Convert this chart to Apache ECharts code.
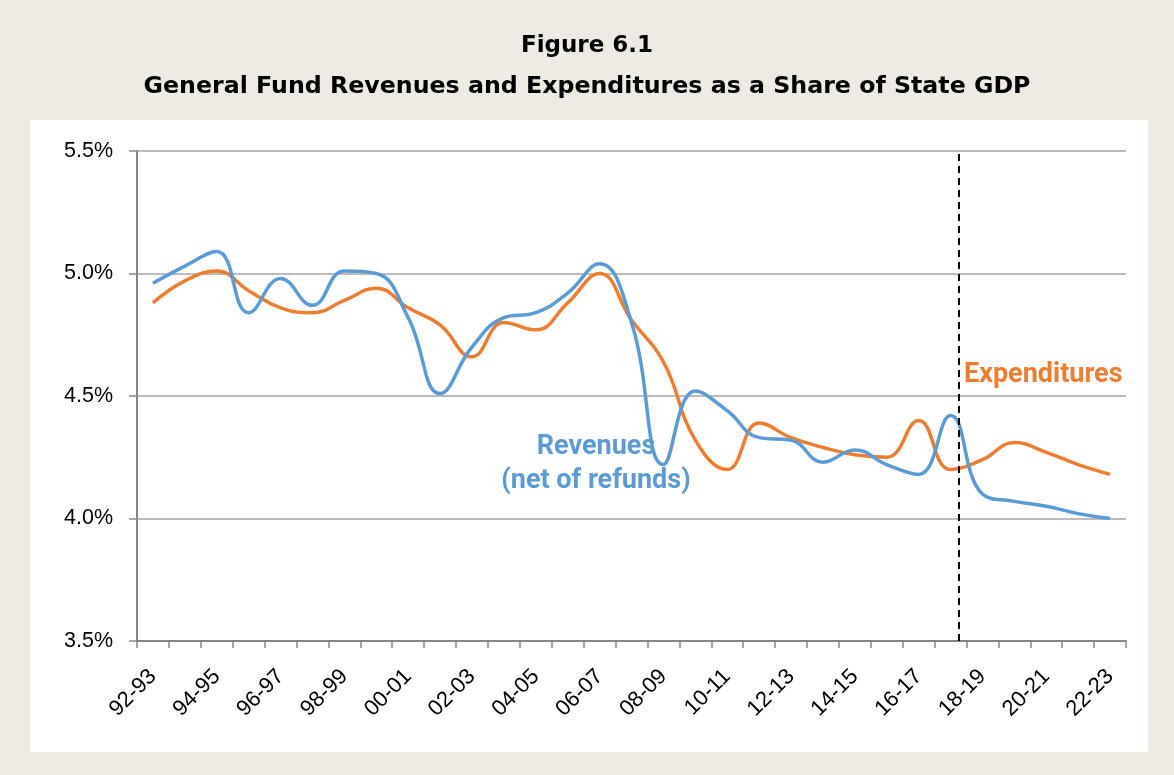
<!DOCTYPE html>
<html>
<head>
<meta charset="utf-8">
<script src="https://cdn.jsdelivr.net/npm/echarts@6/dist/echarts.min.js"></script>
<style>
  html, body { margin: 0; padding: 0; background: #fff; }
  #chart { width: 1174px; height: 775px; }
</style>
</head>
<body>
<div id="chart"></div>
<script>
var years = ['92-93','93-94','94-95','95-96','96-97','97-98','98-99','99-00','00-01','01-02',
  '02-03','03-04','04-05','05-06','06-07','07-08','08-09','09-10','10-11','11-12',
  '12-13','13-14','14-15','15-16','16-17','17-18','18-19','19-20','20-21','21-22','22-23']

var revenues = [4.96, 5.03, 5.09, 4.84, 4.98, 4.87, 5.01, 5.00, 4.82, 4.51,
  4.70, 4.82, 4.84, 4.92, 5.04, 4.80, 4.22, 4.52, 4.44, 4.33,
  4.32, 4.23, 4.28, 4.22, 4.18, 4.42, 4.10, 4.07, 4.05, 4.02, 4.00]

var expenditures = [4.88, 4.97, 5.01, 4.93, 4.86, 4.84, 4.89, 4.94, 4.86, 4.79,
  4.66, 4.80, 4.77, 4.88, 5.00, 4.81, 4.64, 4.32, 4.20, 4.39,
  4.33, 4.29, 4.26, 4.25, 4.40, 4.20, 4.24, 4.31, 4.27, 4.22, 4.18]

// where the dashed divider sits, in category-width units from the left edge
var forecastBoundary = 25.75

var yTicks = { min: 3.5, max: 5.5, step: 0.5 }

var BLUE = '#5b9bd5'
var ORANGE = '#ed7d31'

var chart = echarts.init(document.getElementById('chart'))

chart.setOption({
  backgroundColor: '#eeebe4',
  animation: false,
  title: [
    {
      text: 'Figure 6.1',
      left: 'center',
      top: 30,
      textStyle: { fontFamily: 'DejaVu Sans', fontWeight: 'bold', fontSize: 23, color: '#000' }
    },
    {
      text: 'General Fund Revenues and Expenditures as a Share of State GDP',
      left: 'center',
      top: 70,
      textStyle: { fontFamily: 'DejaVu Sans', fontWeight: 'bold', fontSize: 23.7, color: '#000' }
    }
  ],
  graphic: [
    {
      type: 'rect', z: -10, silent: true,
      shape: { x: 30, y: 120, width: 1118, height: 632 },
      style: { fill: '#ffffff' }
    },
    {
      type: 'text', silent: true, x: 596, y: 430,
      style: {
        text: 'Revenues\n(net of refunds)', fill: BLUE, align: 'center',
        font: 'bold 27px Roboto', lineHeight: 34
      }
    },
    {
      type: 'text', silent: true, x: 964, y: 362,
      style: { text: 'Expenditures', fill: ORANGE, font: 'bold 27px Roboto' }
    }
  ],
  grid: { left: 137, right: 48, top: 151, bottom: 134, containLabel: false },
  xAxis: [
    {
      type: 'category',
      data: years,
      boundaryGap: true,
      axisLine: { lineStyle: { color: '#868686', width: 2 } },
      axisTick: { show: true, interval: 0, length: 7, lineStyle: { color: '#868686', width: 1.5 } },
      axisLabel: {
        interval: 1, rotate: 45, margin: 32,
        fontFamily: 'Liberation Sans', fontSize: 22, color: '#000'
      }
    },
    { type: 'value', min: 0, max: years.length, show: false }
  ],
  yAxis: {
    type: 'value',
    min: yTicks.min,
    max: yTicks.max,
    interval: yTicks.step,
    axisLine: { show: true, lineStyle: { color: '#868686', width: 2 } },
    axisTick: { show: true, length: 8, lineStyle: { color: '#868686', width: 1.5 } },
    axisLabel: {
      margin: 24, fontFamily: 'Liberation Sans', fontSize: 21.5, color: '#000',
      formatter: function (v) { return v.toFixed(1) + '%' }
    },
    splitLine: { lineStyle: { color: '#a6a6a6', width: 1.5 } }
  },
  series: [
    {
      name: 'Revenues', type: 'line', data: revenues,
      smooth: 0.45, symbol: 'none',
      lineStyle: { color: BLUE, width: 3.5 }, z: 3
    },
    {
      name: 'Expenditures', type: 'line', data: expenditures,
      smooth: 0.45, symbol: 'none',
      lineStyle: { color: ORANGE, width: 3.5 }, z: 2
    },
    {
      name: 'divider', type: 'line', xAxisIndex: 1, data: [],
      markLine: {
        silent: true, symbol: 'none', label: { show: false },
        lineStyle: { type: [7, 5], color: '#000', width: 2 },
        data: [{ xAxis: forecastBoundary }]
      },
      z: 4
    }
  ]
})
</script>
</body>
</html>
